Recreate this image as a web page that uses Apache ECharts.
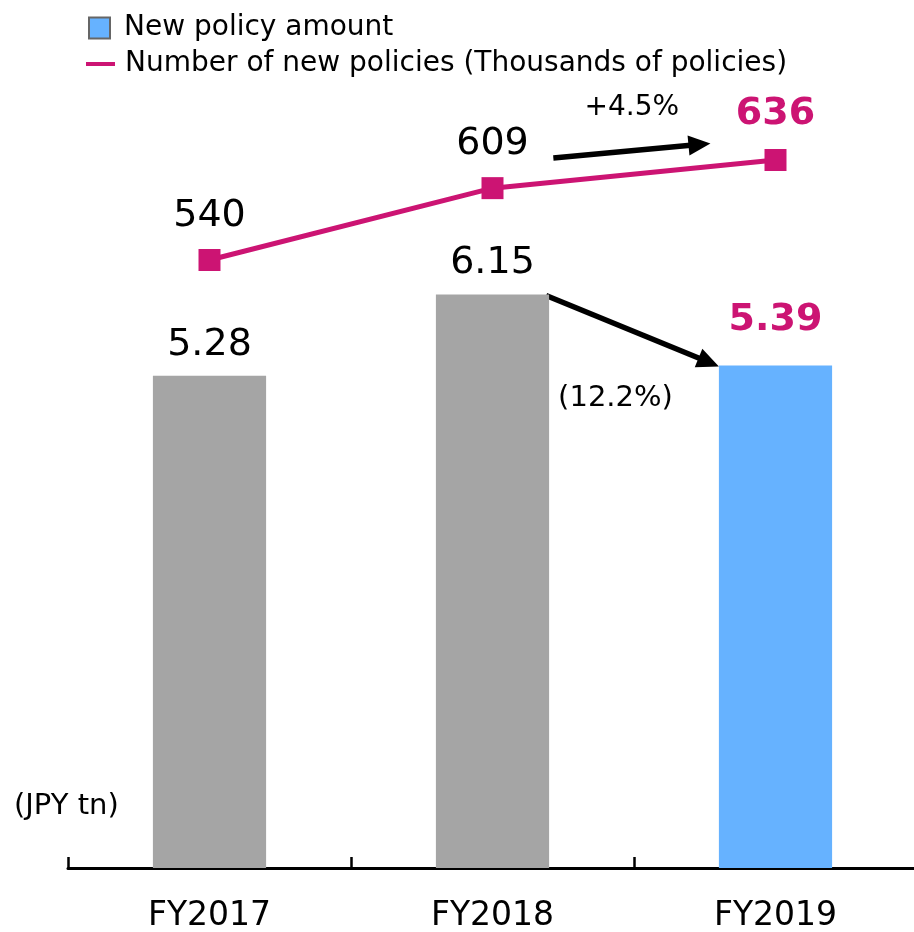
<!DOCTYPE html>
<html>
<head>
<meta charset="utf-8">
<script src="https://cdn.jsdelivr.net/npm/echarts@6/dist/echarts.min.js"></script>
<style>
  html, body { margin: 0; padding: 0; background: #fff; }
  #chart { width: 914px; height: 932px; }
</style>
</head>
<body>
<div id="chart"></div>
<script>
const categories = ['FY2017', 'FY2018', 'FY2019'];
const policyAmount = [5.28, 6.15, 5.39];   // JPY tn
const policyCount = [540, 609, 636];       // thousands of policies
const countChange = '+4.5%';
const amountChange = '(12.2%)';

const MAGENTA = '#CC1473';
const GRAY = '#A5A5A5';
const BLUE = '#66B2FF';
const FONT = 'DejaVu Sans';

const chart = echarts.init(document.getElementById('chart'));

const last = categories.length - 1;

const option = {
    animation: false,
    title: {
        text: '(JPY tn)',
        left: 14,
        top: 792,
        padding: 0,
        textStyle: { fontFamily: FONT, fontSize: 29, fontWeight: 'normal', color: '#000' }
    },
    legend: [{
        data: [{
            name: 'New policy amount',
            icon: 'rect',
            itemStyle: { color: BLUE, borderColor: '#666', borderWidth: 2 }
        }],
        left: 88,
        top: 14,
        padding: 0,
        itemWidth: 21,
        itemHeight: 21,
        selectedMode: false,
        textStyle: { fontFamily: FONT, fontSize: 28, color: '#000', padding: [0, 0, 0, 9] }
    }, {
        data: [{ name: 'Number of new policies (Thousands of policies)', icon: 'rect' }],
        left: 86,
        top: 50,
        padding: 0,
        itemWidth: 29,
        itemHeight: 4,
        selectedMode: false,
        textStyle: { fontFamily: FONT, fontSize: 28, color: '#000', padding: [0, 0, 0, 5] }
    }],
    grid: { left: 68, top: 122, right: -3, bottom: 64, containLabel: false, outerBoundsMode: 'none' },
    xAxis: {
        type: 'category',
        data: categories,
        axisLine: { show: true, lineStyle: { color: '#000', width: 3 } },
        axisTick: { show: true, inside: true, length: 11, lineStyle: { color: '#000', width: 2.5 } },
        axisLabel: { fontFamily: FONT, fontSize: 33, color: '#000', margin: 32 }
    },
    yAxis: [{
        type: 'value', min: 0, max: 8, show: false, splitLine: { show: false }
    }, {
        type: 'value', min: -43.7, max: 672.5, show: false, splitLine: { show: false }
    }],
    series: [{
        name: 'New policy amount',
        type: 'bar',
        barWidth: '40%',
        itemStyle: { color: GRAY },
        label: {
            show: true, position: 'top', distance: 12,
            fontFamily: FONT, fontSize: 38, color: '#000'
        },
        data: policyAmount.map((v, i) => i === last ? {
            value: v,
            itemStyle: { color: BLUE },
            label: { color: MAGENTA, fontWeight: 'bold', distance: 26 }
        } : v)
    }, {
        name: 'Number of new policies (Thousands of policies)',
        type: 'line',
        yAxisIndex: 1,
        z: 5,
        symbol: 'rect',
        symbolSize: 22,
        color: MAGENTA,
        lineStyle: { color: MAGENTA, width: 5 },
        itemStyle: { color: MAGENTA },
        label: {
            show: true, position: 'top', distance: 14,
            fontFamily: FONT, fontSize: 38, color: '#000'
        },
        data: policyCount.map((v, i) => i === last ? {
            value: v,
            label: { color: MAGENTA, fontWeight: 'bold', distance: 16 }
        } : v)
    }]
};
chart.setOption(option);

// annotation arrows, anchored to the drawn marks
function arrow(from, to) {
    const dx = to[0] - from[0], dy = to[1] - from[1];
    const len = Math.hypot(dx, dy);
    const ux = dx / len, uy = dy / len;
    const hl = 22, hw = 10;
    const bx = to[0] - ux * hl, by = to[1] - uy * hl;
    return [{
        type: 'line',
        shape: { x1: from[0], y1: from[1], x2: bx + ux * 2, y2: by + uy * 2 },
        style: { stroke: '#000', lineWidth: 5.5 }
    }, {
        type: 'polygon',
        shape: { points: [to, [bx - uy * hw, by + ux * hw], [bx + uy * hw, by - ux * hw]] },
        style: { fill: '#000' }
    }];
}

const barHalf = chart.getModel().getComponent('xAxis').axis.getBandWidth() * 0.4 / 2;
const b1 = chart.convertToPixel({ xAxisIndex: 0, yAxisIndex: 0 }, [1, policyAmount[1]]);
const b2 = chart.convertToPixel({ xAxisIndex: 0, yAxisIndex: 0 }, [2, policyAmount[2]]);
const c1 = chart.convertToPixel({ xAxisIndex: 0, yAxisIndex: 1 }, [1, policyCount[1]]);
const c2 = chart.convertToPixel({ xAxisIndex: 0, yAxisIndex: 1 }, [2, policyCount[2]]);

const lerp = (a, b, t, off) => [a[0] + (b[0] - a[0]) * t, a[1] + (b[1] - a[1]) * t - off];
const upFrom = lerp(c1, c2, 0.215, 24);
const upTo = lerp(c1, c2, 0.77, 23);
const downFrom = [b1[0] + barHalf - 3, b1[1] + 1];
const downTo = [b2[0] - barHalf, b2[1] + 1];

const textBase = { fill: '#000', align: 'center', verticalAlign: 'middle' };

chart.setOption({
    graphic: [
        ...arrow(upFrom, upTo),
        ...arrow(downFrom, downTo),
        {
            type: 'text',
            x: (upFrom[0] + upTo[0]) / 2,
            y: (upFrom[1] + upTo[1]) / 2 - 43,
            style: Object.assign({ text: countChange, font: '28px "DejaVu Sans"' }, textBase)
        },
        {
            type: 'text',
            x: (downFrom[0] + downTo[0]) / 2 - 17,
            y: (downFrom[1] + downTo[1]) / 2 + 68,
            style: Object.assign({ text: amountChange, font: '29px "DejaVu Sans"' }, textBase)
        }
    ]
});
</script>
</body>
</html>
